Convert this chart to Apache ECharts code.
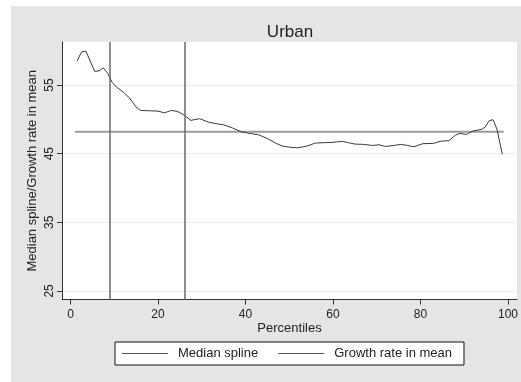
<!DOCTYPE html>
<html>
<head>
<meta charset="utf-8">
<script src="https://cdn.jsdelivr.net/npm/echarts@6/dist/echarts.min.js"></script>
<style>
  html, body { margin: 0; padding: 0; background: #fff; }
  #chart { width: 521px; height: 382px; }
</style>
</head>
<body>
<div id="chart"></div>
<script>
// Percentile positions of the median spline and its values
const splinePct = [1.5, 2.5, 3.5, 4.5, 5.5, 6.5, 7.5, 8.5, 9.5, 10.5, 12, 13.5, 15, 16, 18, 20, 21.5, 23, 24.5, 26,
  27.5, 29.5, 31.5, 33, 35, 37, 39, 41, 43, 45, 47, 48.5, 50, 52, 54, 56, 58, 60, 62, 63.5,
  65, 67, 69, 70.5, 72, 74, 75.5, 77, 78.5, 80.5, 83, 84.5, 86.5, 88, 89, 90.5, 92, 94, 94.8, 95.7,
  96.6, 97.5, 98, 98.7];
const splineVal = [58.5, 59.8, 59.95, 58.5, 57.0, 57.05, 57.5, 56.7, 55.4, 54.7, 54.0, 53.1, 51.8, 51.3, 51.25, 51.2, 50.95, 51.3, 51.15, 50.6,
  49.85, 50.1, 49.6, 49.4, 49.2, 48.75, 48.2, 47.95, 47.75, 47.2, 46.5, 46.1, 45.95, 45.85, 46.1, 46.55, 46.6, 46.65, 46.8, 46.6,
  46.4, 46.35, 46.2, 46.3, 46.05, 46.2, 46.35, 46.2, 46.0, 46.45, 46.5, 46.8, 46.9, 47.7, 47.95, 47.8, 48.3, 48.55, 48.9, 49.8,
  49.95, 48.5, 47.0, 44.9];

// Growth rate in mean: constant over the percentile range
const growthRange = [1, 99];
const growthRate = 48.2;

// Reference percentiles marked with vertical lines
const markPct = [9, 26];

// Axis ticks
const xTicks = [0, 20, 40, 60, 80, 100];
const yTicks = [25, 35, 45, 55];

const chart = echarts.init(document.getElementById('chart'));
const font = '"Liberation Sans", Arial, Helvetica, sans-serif';

chart.setOption({
  animation: false,
  backgroundColor: '#ffffff',
  textStyle: { fontFamily: font },
  graphic: [{
    type: 'rect',
    z: -10,
    shape: { x: 11, y: 6, width: 510, height: 376 },
    style: { fill: '#e5e5e5' }
  }],
  title: {
    text: 'Urban',
    left: 290,
    top: 24,
    padding: 0,
    textAlign: 'center',
    textStyle: { fontFamily: font, fontSize: 17, fontWeight: 'normal', color: '#222' }
  },
  grid: {
    left: 62,
    top: 42,
    right: 4,
    bottom: 82.5,
    show: true,
    backgroundColor: '#ffffff',
    borderWidth: 0
  },
  legend: {
    left: 115,
    top: 342,
    orient: 'horizontal',
    padding: [5, 12, 5, 7],
    backgroundColor: '#ffffff',
    borderColor: '#111',
    borderWidth: 1,
    borderRadius: 0,
    itemWidth: 46,
    itemHeight: 10,
    itemGap: 20,
    textStyle: { fontFamily: font, fontSize: 13, color: '#222', padding: [0, 0, 0, 5] },
    data: [
      { name: 'Median spline', icon: 'path://M0,4.5 L46,4.5 L46,5.5 L0,5.5 Z', itemStyle: { color: '#555' } },
      { name: 'Growth rate in mean', icon: 'path://M0,4.5 L46,4.5 L46,5.5 L0,5.5 Z', itemStyle: { color: '#555' } }
    ]
  },
  xAxis: {
    type: 'value',
    min: -1.95,
    max: 102.05,
    name: 'Percentiles',
    nameLocation: 'middle',
    nameGap: 22,
    nameMoveOverlap: false,
    nameTextStyle: { fontFamily: font, fontSize: 13, color: '#222' },
    axisLine: { show: true, onZero: false, lineStyle: { color: '#333', width: 1 } },
    axisTick: { show: true, customValues: xTicks, length: 5, lineStyle: { color: '#333' } },
    axisLabel: { customValues: xTicks, margin: 9, fontFamily: font, fontSize: 12, color: '#222' },
    splitLine: { show: false }
  },
  yAxis: {
    type: 'value',
    min: 23.75,
    max: 61.27,
    name: 'Median spline/Growth rate in mean',
    nameLocation: 'middle',
    nameGap: 23,
    nameMoveOverlap: false,
    nameTextStyle: { fontFamily: font, fontSize: 13, color: '#222' },
    axisLine: { show: true, onZero: false, lineStyle: { color: '#333', width: 1 } },
    axisTick: { show: true, customValues: yTicks, length: 5, lineStyle: { color: '#333' } },
    axisLabel: { customValues: yTicks, rotate: 90, margin: 6, fontFamily: font, fontSize: 12, color: '#222' },
    splitLine: { show: true, lineStyle: { color: '#ececec', width: 1 } }
  },
  series: [
    {
      name: 'Median spline',
      type: 'line',
      symbol: 'none',
      z: 4,
      lineStyle: { color: '#3a3a3a', width: 1 },
      data: splinePct.map((p, i) => [p, splineVal[i]]),
      markLine: {
        silent: true,
        symbol: 'none',
        label: { show: false },
        lineStyle: { color: '#6a6a6a', width: 1.5, type: 'solid' },
        data: markPct.map(p => ({ xAxis: p }))
      }
    },
    {
      name: 'Growth rate in mean',
      type: 'line',
      symbol: 'none',
      z: 3,
      lineStyle: { color: '#9a9a9a', width: 2 },
      data: growthRange.map(p => [p, growthRate])
    }
  ]
});
</script>
</body>
</html>
